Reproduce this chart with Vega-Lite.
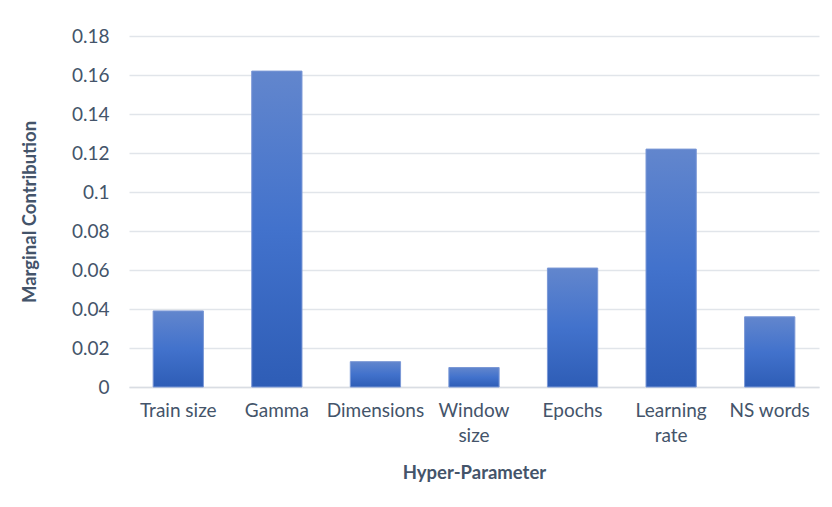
{
  "$schema": "https://vega.github.io/schema/vega-lite/v6.json",
  "autosize": "none",
  "width": 690,
  "height": 351,
  "padding": {"left": 129, "top": 36, "right": 13, "bottom": 120},
  "background": "white",
  "data": {
    "values": [
      {"param": "Train size", "contribution": 0.039},
      {"param": "Gamma", "contribution": 0.162},
      {"param": "Dimensions", "contribution": 0.013},
      {"param": "Window size", "contribution": 0.010},
      {"param": "Epochs", "contribution": 0.061},
      {"param": "Learning rate", "contribution": 0.122},
      {"param": "NS words", "contribution": 0.036}
    ]
  },
  "mark": {
    "type": "bar",
    "stroke": "#7b98d6",
    "strokeWidth": 1,
    "color": {
      "gradient": "linear",
      "x1": 0, "y1": 0, "x2": 0, "y2": 1,
      "stops": [
        {"offset": 0, "color": "#6286cd"},
        {"offset": 0.5, "color": "#4272cc"},
        {"offset": 1, "color": "#2e5db6"}
      ]
    }
  },
  "encoding": {
    "x": {
      "field": "param",
      "type": "nominal",
      "sort": null,
      "scale": {"paddingInner": 0.49, "paddingOuter": 0.245},
      "axis": {
        "title": "Hyper-Parameter",
        "labelAngle": 0,
        "labelExpr": "datum.label == 'Window size' || datum.label == 'Learning rate' ? split(datum.label, ' ') : datum.label",
        "labelLineHeight": 25,
        "labelPadding": 14,
        "labelBaseline": "top",
        "ticks": false,
        "domainColor": "#d9dde3",
        "domainWidth": 1.5,
        "titlePadding": 18
      }
    },
    "y": {
      "field": "contribution",
      "type": "quantitative",
      "scale": {"domain": [0, 0.18]},
      "axis": {
        "title": "Marginal Contribution",
        "values": [0, 0.02, 0.04, 0.06, 0.08, 0.1, 0.12, 0.14, 0.16, 0.18],
        "labelExpr": "datum.value == 0 ? '0' : format(datum.value, '.2~f')",
        "ticks": false,
        "domain": false,
        "labelPadding": 20,
        "titlePadding": 32,
        "gridColor": "#e1e5ea",
        "gridWidth": 1.5
      }
    }
  },
  "config": {
    "view": {"stroke": null},
    "font": "Lato",
    "axis": {
      "labelFont": "Lato",
      "labelFontSize": 19,
      "labelColor": "#44546a",
      "titleFont": "Lato",
      "titleFontSize": 18.5,
      "titleFontWeight": "bold",
      "titleColor": "#44546a"
    }
  }
}
